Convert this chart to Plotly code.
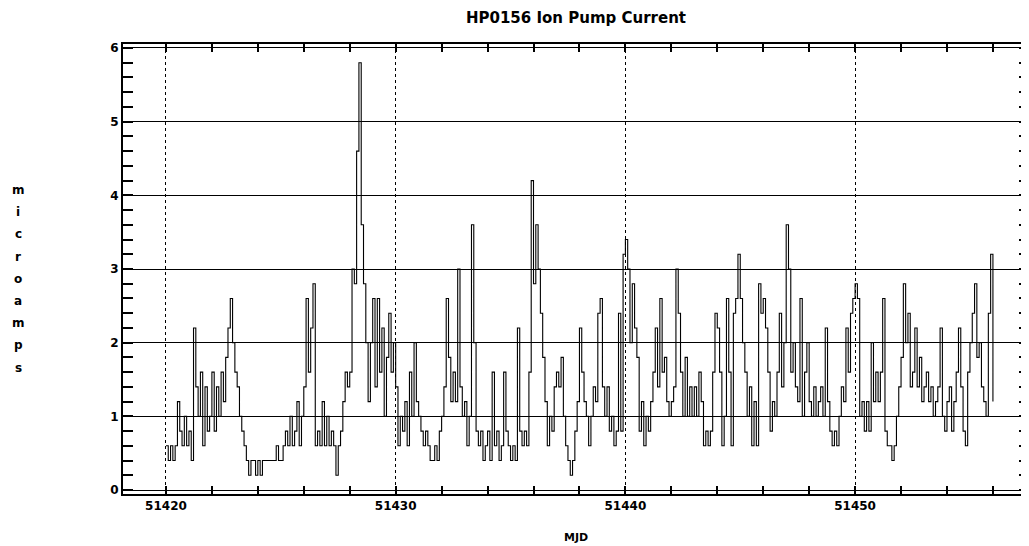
import numpy as np
import plotly.graph_objects as go

# ---------------- data ----------------
title_text = "HP0156 Ion Pump Current"
x_title = "MJD"
y_title = "microamps"

mjd_start = 51420.0          # first sample
sample_step = 0.1            # days between samples
x_tick_vals = [51420, 51430, 51440, 51450]
x_tick_text = ["51420", "51430", "51440", "51450"]
y_tick_vals = [0, 1, 2, 3, 4, 5, 6]
y_tick_text = ["0", "1", "2", "3", "4", "5", "6"]

# ion pump current (microamps), 10 samples per day, day by day
current_by_day = [
    [0.6, 0.4, 0.6, 0.4, 0.6, 1.2, 0.8, 0.6, 1.0, 0.6],   # 51420
    [0.8, 0.4, 2.2, 1.4, 1.0, 1.6, 0.6, 1.4, 0.8, 1.0],   # 51421
    [1.6, 0.8, 1.4, 1.0, 1.6, 1.2, 1.8, 2.2, 2.6, 2.0],   # 51422
    [1.6, 1.4, 1.0, 0.8, 0.6, 0.4, 0.2, 0.4, 0.4, 0.2],   # 51423
    [0.4, 0.2, 0.4, 0.4, 0.4, 0.4, 0.4, 0.4, 0.6, 0.4],   # 51424
    [0.4, 0.6, 0.8, 0.6, 1.0, 0.6, 0.8, 1.2, 0.6, 1.0],   # 51425
    [1.4, 2.6, 1.6, 2.2, 2.8, 0.6, 0.8, 0.6, 1.2, 0.6],   # 51426
    [1.0, 0.6, 0.8, 0.6, 0.2, 0.6, 0.8, 1.2, 1.6, 1.4],   # 51427
    [1.6, 3.0, 2.8, 4.6, 5.8, 3.6, 2.8, 2.0, 1.2, 2.0],   # 51428
    [2.6, 1.4, 2.6, 1.6, 2.2, 1.0, 1.8, 2.4, 1.6, 2.0],   # 51429
    [1.4, 0.6, 1.0, 0.8, 1.2, 0.6, 1.6, 1.0, 2.0, 1.2],   # 51430
    [1.0, 0.8, 0.6, 0.8, 0.6, 0.4, 0.4, 0.6, 0.4, 0.8],   # 51431
    [1.0, 1.4, 2.6, 1.8, 1.2, 1.6, 1.2, 3.0, 1.4, 1.0],   # 51432
    [1.2, 0.6, 1.0, 3.6, 2.0, 0.8, 0.6, 0.8, 0.4, 0.6],   # 51433
    [0.8, 0.4, 1.6, 0.6, 0.8, 0.4, 0.6, 1.6, 0.8, 0.6],   # 51434
    [0.4, 0.6, 0.4, 2.2, 0.8, 0.6, 0.8, 0.6, 1.6, 4.2],   # 51435
    [2.8, 3.6, 3.0, 2.4, 1.8, 1.2, 0.6, 1.0, 0.8, 1.4],   # 51436
    [1.6, 1.4, 1.8, 1.0, 0.6, 0.4, 0.2, 0.4, 0.8, 1.2],   # 51437
    [2.2, 1.6, 1.2, 1.0, 0.6, 1.0, 1.4, 1.2, 2.4, 2.6],   # 51438
    [1.4, 1.0, 1.4, 0.8, 1.0, 0.6, 0.8, 2.4, 0.8, 3.2],   # 51439
    [3.4, 3.0, 2.0, 2.8, 2.2, 1.8, 0.8, 1.2, 0.6, 1.0],   # 51440
    [0.8, 1.2, 1.6, 2.2, 1.4, 2.6, 1.6, 1.8, 1.2, 1.0],   # 51441
    [1.2, 1.4, 3.0, 2.4, 1.6, 1.0, 1.8, 1.0, 1.4, 1.0],   # 51442
    [1.4, 1.0, 1.6, 1.2, 0.6, 0.8, 0.6, 0.8, 1.6, 2.4],   # 51443
    [2.2, 1.6, 0.6, 1.0, 2.6, 1.6, 0.6, 2.4, 2.6, 3.2],   # 51444
    [2.6, 2.0, 1.6, 1.0, 1.4, 0.6, 1.2, 0.6, 2.8, 2.4],   # 51445
    [2.6, 2.2, 1.6, 0.8, 1.2, 1.0, 1.6, 2.4, 1.4, 2.0],   # 51446
    [3.6, 3.0, 1.6, 2.0, 1.4, 1.2, 2.6, 1.0, 1.6, 2.0],   # 51447
    [1.2, 1.0, 1.4, 1.0, 1.2, 1.4, 1.0, 2.2, 1.2, 0.8],   # 51448
    [0.6, 0.8, 0.6, 1.0, 1.4, 1.2, 2.2, 1.6, 2.4, 2.6],   # 51449
    [2.8, 2.6, 1.0, 1.2, 0.8, 1.2, 0.8, 2.0, 1.2, 1.6],   # 51450
    [1.2, 1.6, 2.6, 0.8, 0.6, 0.6, 0.4, 0.6, 1.0, 1.4],   # 51451
    [1.8, 2.8, 2.0, 2.4, 1.4, 1.6, 2.2, 1.4, 1.8, 1.2],   # 51452
    [1.4, 1.6, 1.2, 1.4, 1.0, 1.2, 1.4, 2.2, 1.0, 0.8],   # 51453
    [1.2, 1.4, 0.8, 1.2, 1.6, 2.2, 1.4, 0.8, 0.6, 1.6],   # 51454
    [2.0, 2.4, 2.8, 1.8, 2.0, 1.4, 1.2, 1.0, 2.4, 3.2],   # 51455
]
last_value = [1.2]            # final sample at 51456.0

# ---------------- build ----------------
current = [v for day in current_by_day for v in day] + last_value
mjd = mjd_start + sample_step * np.arange(len(current))

FONT = "DejaVu Sans"

# the page body adds an 8px margin, so the figure is 8px smaller and
# its own margins 8px smaller on the left/top
fig = go.Figure()
fig.add_trace(go.Scatter(
    x=mjd, y=current, mode="lines",
    line=dict(color="black", width=1.1, shape="hv"),
    showlegend=False, hoverinfo="skip",
))

fig.update_layout(
    template="none",
    width=1021, height=538,
    margin=dict(l=115, r=0, t=36, b=52, autoexpand=False),
    paper_bgcolor="white", plot_bgcolor="white",
    font=dict(family=FONT, color="black", size=12),
    title=dict(text=title_text, x=0.5, xref="paper", xanchor="center",
               y=1 - 10 / 538, yanchor="middle", automargin=False,
               font=dict(family=FONT, size=15, color="black", weight="bold")),
)

fig.update_xaxes(
    automargin=False,
    range=[51418.13, 51457.57],
    tickmode="array", tickvals=x_tick_vals, ticktext=x_tick_text,
    ticks="inside", ticklen=8, tickwidth=1.5, tickcolor="black",
    showline=True, linecolor="black", linewidth=2, mirror="allticks",
    showgrid=True, gridcolor="black", gridwidth=1, griddash="dot",
    zeroline=False,
    minor=dict(tick0=51420, dtick=2, ticks="inside", ticklen=8,
               tickwidth=1.5, tickcolor="black", showgrid=False),
    tickfont=dict(family=FONT, size=12, color="black", weight="bold"),
)

fig.update_yaxes(
    automargin=False,
    range=[-0.054, 6.054],
    tickmode="array", tickvals=y_tick_vals, ticktext=y_tick_text,
    ticks="inside", ticklen=10, tickwidth=1.5, tickcolor="black",
    showline=True, linecolor="black", linewidth=2, mirror="allticks",
    showgrid=True, gridcolor="black", gridwidth=1.2,
    zeroline=False,
    minor=dict(tick0=0, dtick=0.2, ticks="inside", ticklen=10,
               tickwidth=1.5, tickcolor="black", showgrid=False),
    tickfont=dict(family=FONT, size=12, color="black", weight="bold"),
)

# x-axis title
fig.add_annotation(text=x_title, xref="paper", yref="paper",
                   x=0.5, y=(486 - 529) / 450, xanchor="center", yanchor="middle",
                   showarrow=False,
                   font=dict(family=FONT, size=11, color="black", weight="bold"))

# y-axis title: stacked letters
for i, ch in enumerate(y_title):
    ypix = 182 + i * 22.2
    fig.add_annotation(text=ch, xref="paper", yref="paper",
                       x=(10 - 115) / 906, y=(486 - ypix) / 450,
                       xanchor="center", yanchor="middle", showarrow=False,
                       font=dict(family=FONT, size=12, color="black", weight="bold"))

fig.write_html("out.html")
